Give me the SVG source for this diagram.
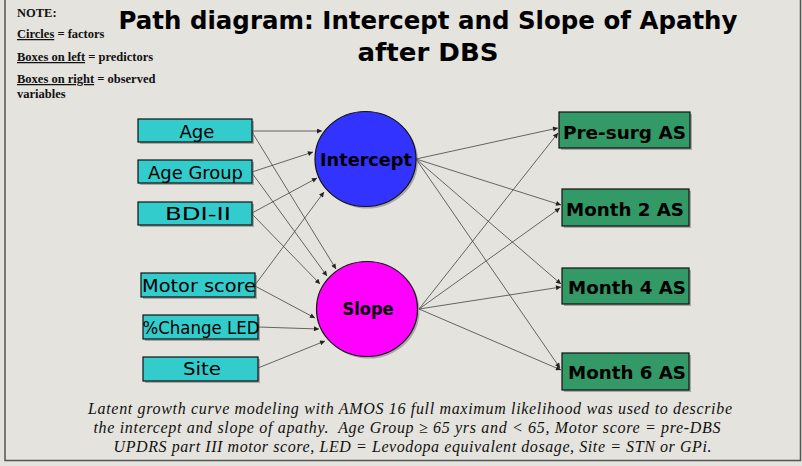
<svg xmlns="http://www.w3.org/2000/svg" width="802" height="466" viewBox="0 0 802 466">
  <defs>
    <marker id="arrow" viewBox="0 0 10 10" refX="10" refY="5" markerWidth="6" markerHeight="5" markerUnits="userSpaceOnUse" orient="auto">
      <path d="M0,0 L10,5 L0,10 z" fill="#222"/>
    </marker>
    <style>
      .bg { fill: #e4e3dd; }
      .frame { stroke: #555; stroke-width: 1.5; fill: none; }
      .note { font-family: "Liberation Serif", "Times New Roman", serif; font-weight: bold; font-size: 12.5px; fill: #111; }
      .ul { text-decoration: underline; }
      .title { font-family: "Comic Sans MS", "DejaVu Sans", sans-serif; font-weight: bold; font-size: 25px; fill: #000; text-anchor: middle; }
      .shadow { fill: #777; opacity: 0.55; }
      .pred { fill: #33cccc; stroke: #111; stroke-width: 1.2; }
      .obs { fill: #339966; stroke: #111; stroke-width: 1.2; }
      .plabel { font-family: "Comic Sans MS", "DejaVu Sans", sans-serif; font-size: 18px; fill: #000; text-anchor: middle; }
      .olabel { font-family: "Comic Sans MS", "DejaVu Sans", sans-serif; font-weight: bold; font-size: 17px; fill: #000; text-anchor: middle; }
      .flabel { font-family: "Comic Sans MS", "DejaVu Sans", sans-serif; font-weight: bold; font-size: 18px; fill: #000; text-anchor: middle; }
      .factor { stroke: #111; stroke-width: 1.2; }
      .edge { stroke: #444; stroke-width: 0.8; fill: none; marker-end: url(#arrow); }
      .caption { font-family: "Liberation Serif", "Times New Roman", serif; font-style: italic; font-size: 16px; fill: #111; text-anchor: middle; }
    </style>
  </defs>

  <!-- page background and frame -->
  <rect class="bg" x="0" y="0" width="802" height="466"/>
  <path class="frame" d="M5,0 V460.5 H800.5 V0"/>

  <!-- legend -->
  <g id="note">
    <text class="note" x="17" y="17">NOTE:</text>
    <text class="note" x="17" y="38"><tspan class="ul">Circles</tspan> = factors</text>
    <text class="note" x="17" y="61"><tspan class="ul">Boxes on left</tspan> = predictors</text>
    <text class="note" x="17" y="83"><tspan class="ul">Boxes on right</tspan> = observed</text>
    <text class="note" x="17" y="98">variables</text>
  </g>

  <!-- heading -->
  <g id="title">
    <text class="title" x="428" y="29" textLength="619" lengthAdjust="spacingAndGlyphs">Path diagram: Intercept and Slope of Apathy</text>
    <text class="title" x="428" y="61" textLength="141" lengthAdjust="spacingAndGlyphs">after DBS</text>
  </g>

  <!-- paths -->
  <g id="connectors">
    <!-- predictors to factors -->
    <line class="edge" x1="252" y1="131" x2="322" y2="131"/>
    <line class="edge" x1="252" y1="132" x2="336" y2="269"/>
    <line class="edge" x1="252" y1="172" x2="313" y2="152"/>
    <line class="edge" x1="252" y1="173" x2="327" y2="276"/>
    <line class="edge" x1="252" y1="213" x2="317" y2="178"/>
    <line class="edge" x1="252" y1="214" x2="320" y2="284"/>
    <line class="edge" x1="255" y1="285" x2="324" y2="192"/>
    <line class="edge" x1="255" y1="286" x2="315" y2="318"/>
    <line class="edge" x1="258" y1="327" x2="319" y2="329"/>
    <line class="edge" x1="258" y1="368" x2="325" y2="341"/>
    <!-- factors to observed -->
    <line class="edge" x1="416" y1="159" x2="558" y2="128"/>
    <line class="edge" x1="416" y1="159" x2="561" y2="205"/>
    <line class="edge" x1="416" y1="159" x2="561" y2="284"/>
    <line class="edge" x1="416" y1="159" x2="560" y2="368"/>
    <line class="edge" x1="419" y1="309" x2="558" y2="133"/>
    <line class="edge" x1="419" y1="309" x2="560" y2="208"/>
    <line class="edge" x1="419" y1="309" x2="561" y2="287"/>
    <line class="edge" x1="419" y1="309" x2="561" y2="370"/>
  </g>

  <!-- predictors -->
  <g id="age">
    <rect class="shadow" x="140" y="121" width="114" height="23"/>
    <rect class="pred" x="138" y="119" width="114" height="23"/>
    <text class="plabel" x="197" y="138" textLength="35" lengthAdjust="spacingAndGlyphs">Age</text>
  </g>
  <g id="age-group">
    <rect class="shadow" x="140" y="162" width="114" height="23"/>
    <rect class="pred" x="138" y="160" width="114" height="23"/>
    <text class="plabel" x="195.5" y="179" textLength="95" lengthAdjust="spacingAndGlyphs">Age Group</text>
  </g>
  <g id="bdi-ii">
    <rect class="shadow" x="140" y="204" width="114" height="23"/>
    <rect class="pred" x="138" y="202" width="114" height="23"/>
    <text class="plabel" x="198" y="220" textLength="66" lengthAdjust="spacingAndGlyphs">BDI-II</text>
  </g>
  <g id="motor-score">
    <rect class="shadow" x="143" y="275" width="114" height="24"/>
    <rect class="pred" x="141" y="273" width="114" height="24"/>
    <text class="plabel" x="199" y="292" textLength="114" lengthAdjust="spacingAndGlyphs">Motor score</text>
  </g>
  <g id="change-led">
    <rect class="shadow" x="145" y="317" width="115" height="24"/>
    <rect class="pred" x="143" y="315" width="115" height="24"/>
    <text class="plabel" x="201" y="334" textLength="117" lengthAdjust="spacingAndGlyphs">%Change LED</text>
  </g>
  <g id="site">
    <rect class="shadow" x="145" y="359" width="115" height="24"/>
    <rect class="pred" x="143" y="357" width="115" height="24"/>
    <text class="plabel" x="202" y="375" textLength="38" lengthAdjust="spacingAndGlyphs">Site</text>
  </g>

  <!-- latent factors -->
  <g id="intercept">
    <ellipse class="shadow" cx="367.5" cy="161" rx="50.5" ry="47.5"/>
    <ellipse class="factor" cx="365.5" cy="159" rx="50.5" ry="47.5" fill="#3333ff"/>
    <text class="flabel" x="366" y="166" textLength="92" lengthAdjust="spacingAndGlyphs">Intercept</text>
  </g>
  <g id="slope">
    <ellipse class="shadow" cx="369" cy="311" rx="50.5" ry="47.5"/>
    <ellipse class="factor" cx="367" cy="309" rx="50.5" ry="47.5" fill="#ff00ff"/>
    <text class="flabel" x="368" y="315" textLength="51" lengthAdjust="spacingAndGlyphs">Slope</text>
  </g>

  <!-- observed measures -->
  <g id="pre-surg-as">
    <rect class="shadow" x="561" y="114" width="131" height="36"/>
    <rect class="obs" x="559" y="112" width="131" height="36"/>
    <text class="olabel" x="624.5" y="139" textLength="123" lengthAdjust="spacingAndGlyphs">Pre-surg AS</text>
  </g>
  <g id="month-2-as">
    <rect class="shadow" x="564" y="191" width="127" height="37"/>
    <rect class="obs" x="562" y="189" width="127" height="37"/>
    <text class="olabel" x="625" y="216" textLength="118" lengthAdjust="spacingAndGlyphs">Month 2 AS</text>
  </g>
  <g id="month-4-as">
    <rect class="shadow" x="564" y="270" width="127" height="36"/>
    <rect class="obs" x="562" y="268" width="127" height="36"/>
    <text class="olabel" x="627" y="294" textLength="118" lengthAdjust="spacingAndGlyphs">Month 4 AS</text>
  </g>
  <g id="month-6-as">
    <rect class="shadow" x="564" y="355" width="127" height="37"/>
    <rect class="obs" x="562" y="353" width="127" height="37"/>
    <text class="olabel" x="627" y="379" textLength="118" lengthAdjust="spacingAndGlyphs">Month 6 AS</text>
  </g>

  <!-- footnote -->
  <g id="caption">
    <text class="caption" x="410" y="414" textLength="644">Latent growth curve modeling with AMOS 16 full maximum likelihood was used to describe</text>
    <text class="caption" x="407" y="433" textLength="627" xml:space="preserve">the intercept and slope of apathy.  Age Group ≥ 65 yrs and &lt; 65, Motor score = pre-DBS</text>
    <text class="caption" x="412.5" y="452" textLength="598">UPDRS part III motor score, LED = Levodopa equivalent dosage, Site = STN or GPi.</text>
  </g>
</svg>
